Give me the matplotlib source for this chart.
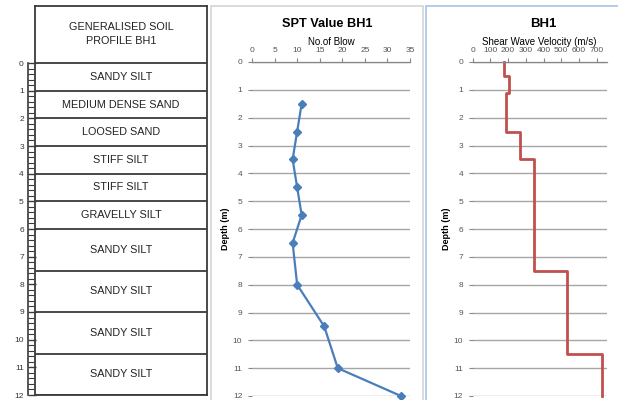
import matplotlib.pyplot as plt
from matplotlib.patches import Rectangle
from matplotlib.ticker import MultipleLocator
import numpy as np

plt.rcParams['font.family'] = ['Liberation Sans', 'DejaVu Sans']

# soil profile
layer_top = [0, 1, 2, 3, 4, 5, 6, 7.5, 9, 10.5]
layer_bottom = [1, 2, 3, 4, 5, 6, 7.5, 9, 10.5, 12]
layer_name = ['SANDY SILT', 'MEDIUM DENSE SAND', 'LOOSED SAND', 'STIFF SILT', 'STIFF SILT',
              'GRAVELLY SILT', 'SANDY SILT', 'SANDY SILT', 'SANDY SILT', 'SANDY SILT']
profile_title = 'GENERALISED SOIL\nPROFILE BH1'

# SPT
spt_depth = [1.5, 2.5, 3.5, 4.5, 5.5, 6.5, 8, 9.5, 11, 12]
spt_blow = [11, 10, 9, 10, 11, 9, 10, 16, 19, 33]

# shear wave velocity (step profile)
vs_top = [0, 0.5, 1.1, 2.5, 3.5, 7.5, 10.5]
vs_bottom = [0.5, 1.1, 2.5, 3.5, 7.5, 10.5, 12]
vs_value = [175, 205, 190, 270, 345, 530, 728]

W, H = 618, 400
fig = plt.figure(figsize=(W / 100, H / 100), dpi=100)


def box(x0, y0, x1, y1):
    # pixel box (top-left origin) -> figure fraction rect
    return [x0 / W, 1 - y1 / H, (x1 - x0) / W, (y1 - y0) / H]


# panel frames
fig.patches.append(Rectangle((211 / W, -0.1), (423 - 211) / W, 1 - 6 / H + 0.1,
                             transform=fig.transFigure, fill=False, ec='#d4d4d4', lw=1.2))
fig.patches.append(Rectangle((426 / W, -0.1), 0.5, 1 - 6 / H + 0.1,
                             transform=fig.transFigure, fill=False, ec='#a8c3e6', lw=1.2))

#%% soil profile
top_px = 6
m_px = (395 - 63) / 12
ax_s = fig.add_axes(box(35, top_px, 207, 395))
ax_s.set_xlim(0, 1)
ax_s.set_ylim(12, -(63 - top_px) / m_px)
ax_s.set_xticks([])
ax_s.set_yticks([])
for sp in ax_s.spines.values():
    sp.set_color('#3a3a3a')
    sp.set_linewidth(1.3)
ax_s.axhline(0, color='#3a3a3a', lw=1.3)
for t, b, name in zip(layer_top, layer_bottom, layer_name):
    ax_s.axhline(b, color='#3a3a3a', lw=1.3)
    ax_s.text(0.5, (t + b) / 2, name, ha='center', va='center', fontsize=7.8, color='#222222')
ax_s.text(0.5, ax_s.get_ylim()[1] / 2, profile_title, ha='center', va='center', fontsize=7.8,
          color='#222222', linespacing=1.5)

# depth ruler
ax_r = fig.add_axes(box(28, 63, 29, 395))
ax_r.set_ylim(12, 0)
ax_r.set_xticks([])
for k in ['top', 'right', 'bottom']:
    ax_r.spines[k].set_visible(False)
ax_r.spines['left'].set_color('#3a3a3a')
ax_r.spines['left'].set_linewidth(1.2)
ax_r.yaxis.set_major_locator(MultipleLocator(1))
ax_r.yaxis.set_minor_locator(MultipleLocator(0.2))
ax_r.tick_params(axis='y', which='major', direction='in', length=6, width=1, color='#3a3a3a',
                 labelsize=6, pad=3, labelcolor='#333333')
ax_r.tick_params(axis='y', which='minor', direction='in', length=4, width=0.8, color='#3a3a3a')
ax_r.patch.set_visible(False)


def style_chart(ax, xmax, xstep):
    ax.set_ylim(12, 0)
    ax.set_xlim(0, xmax)
    ax.xaxis.tick_top()
    ax.xaxis.set_label_position('top')
    ax.set_xticks(np.arange(0, xmax + 1e-6, xstep))
    ax.set_yticks(range(0, 13))
    ax.grid(axis='y', color='#a6a6a6', lw=1)
    ax.set_axisbelow(True)
    for k in ['left', 'right', 'bottom']:
        ax.spines[k].set_visible(False)
    ax.spines['top'].set_color('#868686')
    ax.spines['top'].set_linewidth(0.9)
    ax.tick_params(axis='x', direction='out', length=3, color='#868686', labelsize=6,
                   labelcolor='#555555', pad=3)
    ax.tick_params(axis='y', length=3, color='#868686', labelsize=6, labelcolor='#555555', pad=4)
    ax.set_ylabel('Depth (m)', fontsize=6.5, fontweight='bold', labelpad=2)


#%% SPT chart
ax_m = fig.add_axes(box(252, 62, 410, 396))
style_chart(ax_m, 35, 5)
ax_m.plot(spt_blow, spt_depth, color='#4a7ebb', lw=1.6, marker='D', ms=4, clip_on=False)
ax_m.set_xlabel('No.of Blow', fontsize=7, labelpad=1)
fig.text(327.5 / W, 1 - 24 / H, 'SPT Value BH1', ha='center', va='center',
         fontsize=9.2, fontweight='bold')

#%% shear wave chart
ax_v = fig.add_axes(box(472.7, 62, 606.7, 396))
style_chart(ax_v, 757, 100)
vs_y = np.ravel(list(zip(vs_top, vs_bottom)))
vs_x = np.repeat(vs_value, 2)
ax_v.plot(vs_x, vs_y, color='#c0504d', lw=2, clip_on=False)
ax_v.set_xlabel('Shear Wave Velocity (m/s)', fontsize=7, labelpad=1)
fig.text(543 / W, 1 - 24 / H, 'BH1', ha='center', va='center', fontsize=9.5, fontweight='bold')

fig.savefig('out.png', dpi=100, facecolor='white')
